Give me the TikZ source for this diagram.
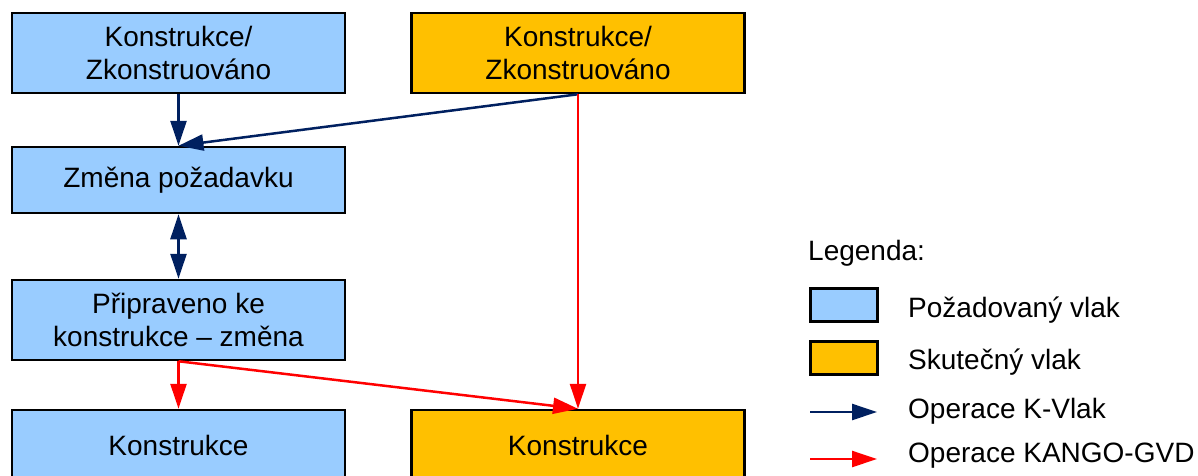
\documentclass[tikz,border=0pt]{standalone}
\usepackage{fontspec}
\setmainfont{Liberation Sans}
\usetikzlibrary{arrows.meta}

\definecolor{reqblue}{HTML}{99CCFF}
\definecolor{realorange}{HTML}{FFC000}
\definecolor{kvlak}{HTML}{002060}
\definecolor{kango}{HTML}{FF0000}

\begin{document}
\begin{tikzpicture}[x = 1pt, y = -1pt,
	> = {Triangle[length = 25pt, width = 16pt]},
	state/.style = {draw = black, line width = 2.5pt, minimum width = 333pt,
		align = center, font = \fontsize{28}{33}\selectfont},
	required/.style = {state, fill = reqblue},
	actual/.style = {state, fill = realorange},
	kv/.style = {->, draw = kvlak, line width = 2.5pt},
	kg/.style = {->, draw = kango, line width = 2.5pt},
	legtext/.style = {anchor = west, inner sep = 0pt, font = \fontsize{28}{33}\selectfont}]

	\useasboundingbox (0, 0) rectangle (1198, 475);

	% States

	\node [required, minimum height = 80pt] (reqbuilt) at (178.5, 53) {Konstrukce/\\Zkonstruov\'ano};
	\node [actual, minimum height = 80pt] (actbuilt) at (578, 53) {Konstrukce/\\Zkonstruov\'ano};
	\node [required, minimum height = 66pt] (change) at (178.5, 180) {Změna požadavku};
	\node [required, minimum height = 80pt] (ready) at (178.5, 320) {Připraveno ke\\konstrukce -- změna};
	\node [required, minimum height = 70pt] (reqcons) at (178.5, 445) {Konstrukce};
	\node [actual, minimum height = 70pt] (actcons) at (578, 445) {Konstrukce};

	% Operations

	\draw [kv] (reqbuilt.south) -- (change.north);
	\draw [kv] (actbuilt.south) -- (change.north);
	\draw [kv, <->] (change.south) -- (ready.north);
	\draw [kg] (actbuilt.south) -- (actcons.north);
	\draw [kg] (ready.south) -- (reqcons.north);
	\draw [kg] (ready.south) -- (actcons.north);

	% Legend

	\node [legtext] (legtitle) at (808, 253) {Legenda:};
	\node [draw = black, line width = 2.5pt, fill = reqblue, minimum width = 67pt, minimum height = 33pt] (legreq) at (844, 305) {};
	\node [draw = black, line width = 2.5pt, fill = realorange, minimum width = 67pt, minimum height = 33pt] (legact) at (844, 358) {};
	\node [legtext] (legreqtext) at (908, 310) {Požadovaný vlak};
	\node [legtext] (legacttext) at (908, 362) {Skutečný vlak};
	\node [legtext] (legkvtext) at (908, 411) {Operace K-Vlak};
	\node [legtext] (legkgtext) at (908, 456) {Operace KANGO-GVD};

	\coordinate (kvstart) at (810, 412);
	\coordinate (kvend) at (877, 412);
	\coordinate (kgstart) at (810, 459);
	\coordinate (kgend) at (877, 459);

	\draw [kv] (kvstart) -- (kvend);
	\draw [kg] (kgstart) -- (kgend);

\end{tikzpicture}
\end{document}
